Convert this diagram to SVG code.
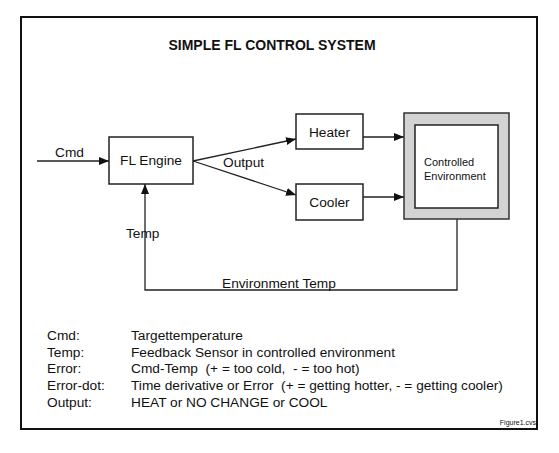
<svg xmlns="http://www.w3.org/2000/svg" width="559" height="453" viewBox="0 0 559 453">
<style>
text{font-family:"Liberation Sans",Arial,sans-serif;fill:#111}
.lbl{font-size:13.7px}
.box{fill:#fff;stroke:#222;stroke-width:1.5}
.ln{fill:none;stroke:#222;stroke-width:1.3}
</style>
<defs>
<marker id="ah" viewBox="0 0 10 8" refX="10" refY="4" markerWidth="10" markerHeight="8" markerUnits="userSpaceOnUse" orient="auto">
<path d="M0,0 L10,4 L0,8 z" fill="#111"/>
</marker>
</defs>
<rect x="0" y="0" width="559" height="453" fill="#fff"/>
<rect x="21" y="17" width="516" height="412" fill="#fff" stroke="#111" stroke-width="2"/>
<text x="272" y="50" text-anchor="middle" font-size="14" font-weight="bold">SIMPLE FL CONTROL SYSTEM</text>

<g id="connectors">
<line class="ln" x1="37" y1="161" x2="109" y2="161" marker-end="url(#ah)"/>
<line class="ln" x1="193" y1="161" x2="296" y2="139" marker-end="url(#ah)"/>
<line class="ln" x1="193" y1="161" x2="296" y2="195" marker-end="url(#ah)"/>
<line class="ln" x1="363" y1="137" x2="404" y2="137" marker-end="url(#ah)"/>
<line class="ln" x1="363" y1="197" x2="404" y2="197" marker-end="url(#ah)"/>
<polyline class="ln" points="457,219 457,290 145,290 145,184" marker-end="url(#ah)"/>
<text class="lbl" x="55" y="157">Cmd</text>
<text class="lbl" x="223" y="167">Output</text>
<text class="lbl" x="126" y="238">Temp</text>
<text class="lbl" x="222" y="288">Environment Temp</text>
</g>

<g id="fl-engine">
<rect class="box" x="109" y="137" width="84" height="47"/>
<text class="lbl" x="151" y="165" text-anchor="middle">FL Engine</text>
</g>
<g id="heater">
<rect class="box" x="296" y="114" width="67" height="35"/>
<text class="lbl" x="329.5" y="137" text-anchor="middle">Heater</text>
</g>
<g id="cooler">
<rect class="box" x="296" y="184" width="67" height="36"/>
<text class="lbl" x="329.5" y="207" text-anchor="middle">Cooler</text>
</g>
<g id="controlled-environment">
<rect x="404" y="113" width="105" height="106" fill="#d3d3d3" stroke="#333" stroke-width="1.5"/>
<rect class="box" x="415" y="125" width="83" height="83"/>
<text x="424" y="166" font-size="11">Controlled</text>
<text x="424" y="180" font-size="11">Environment</text>
</g>

<g id="legend" class="lbl">
<text x="47" y="340">Cmd:</text><text x="131" y="340">Targettemperature</text>
<text x="47" y="357">Temp:</text><text x="131" y="357">Feedback Sensor in controlled environment</text>
<text x="47" y="373">Error:</text><text x="131" y="373" xml:space="preserve">Cmd-Temp  (+ = too cold,  - = too hot)</text>
<text x="47" y="390">Error-dot:</text><text x="131" y="390" xml:space="preserve">Time derivative or Error  (+ = getting hotter, - = getting cooler)</text>
<text x="47" y="407">Output:</text><text x="131" y="407">HEAT or NO CHANGE or COOL</text>
</g>
<text x="536" y="425" font-size="7" text-anchor="end">Figure1.cvs</text>
</svg>
